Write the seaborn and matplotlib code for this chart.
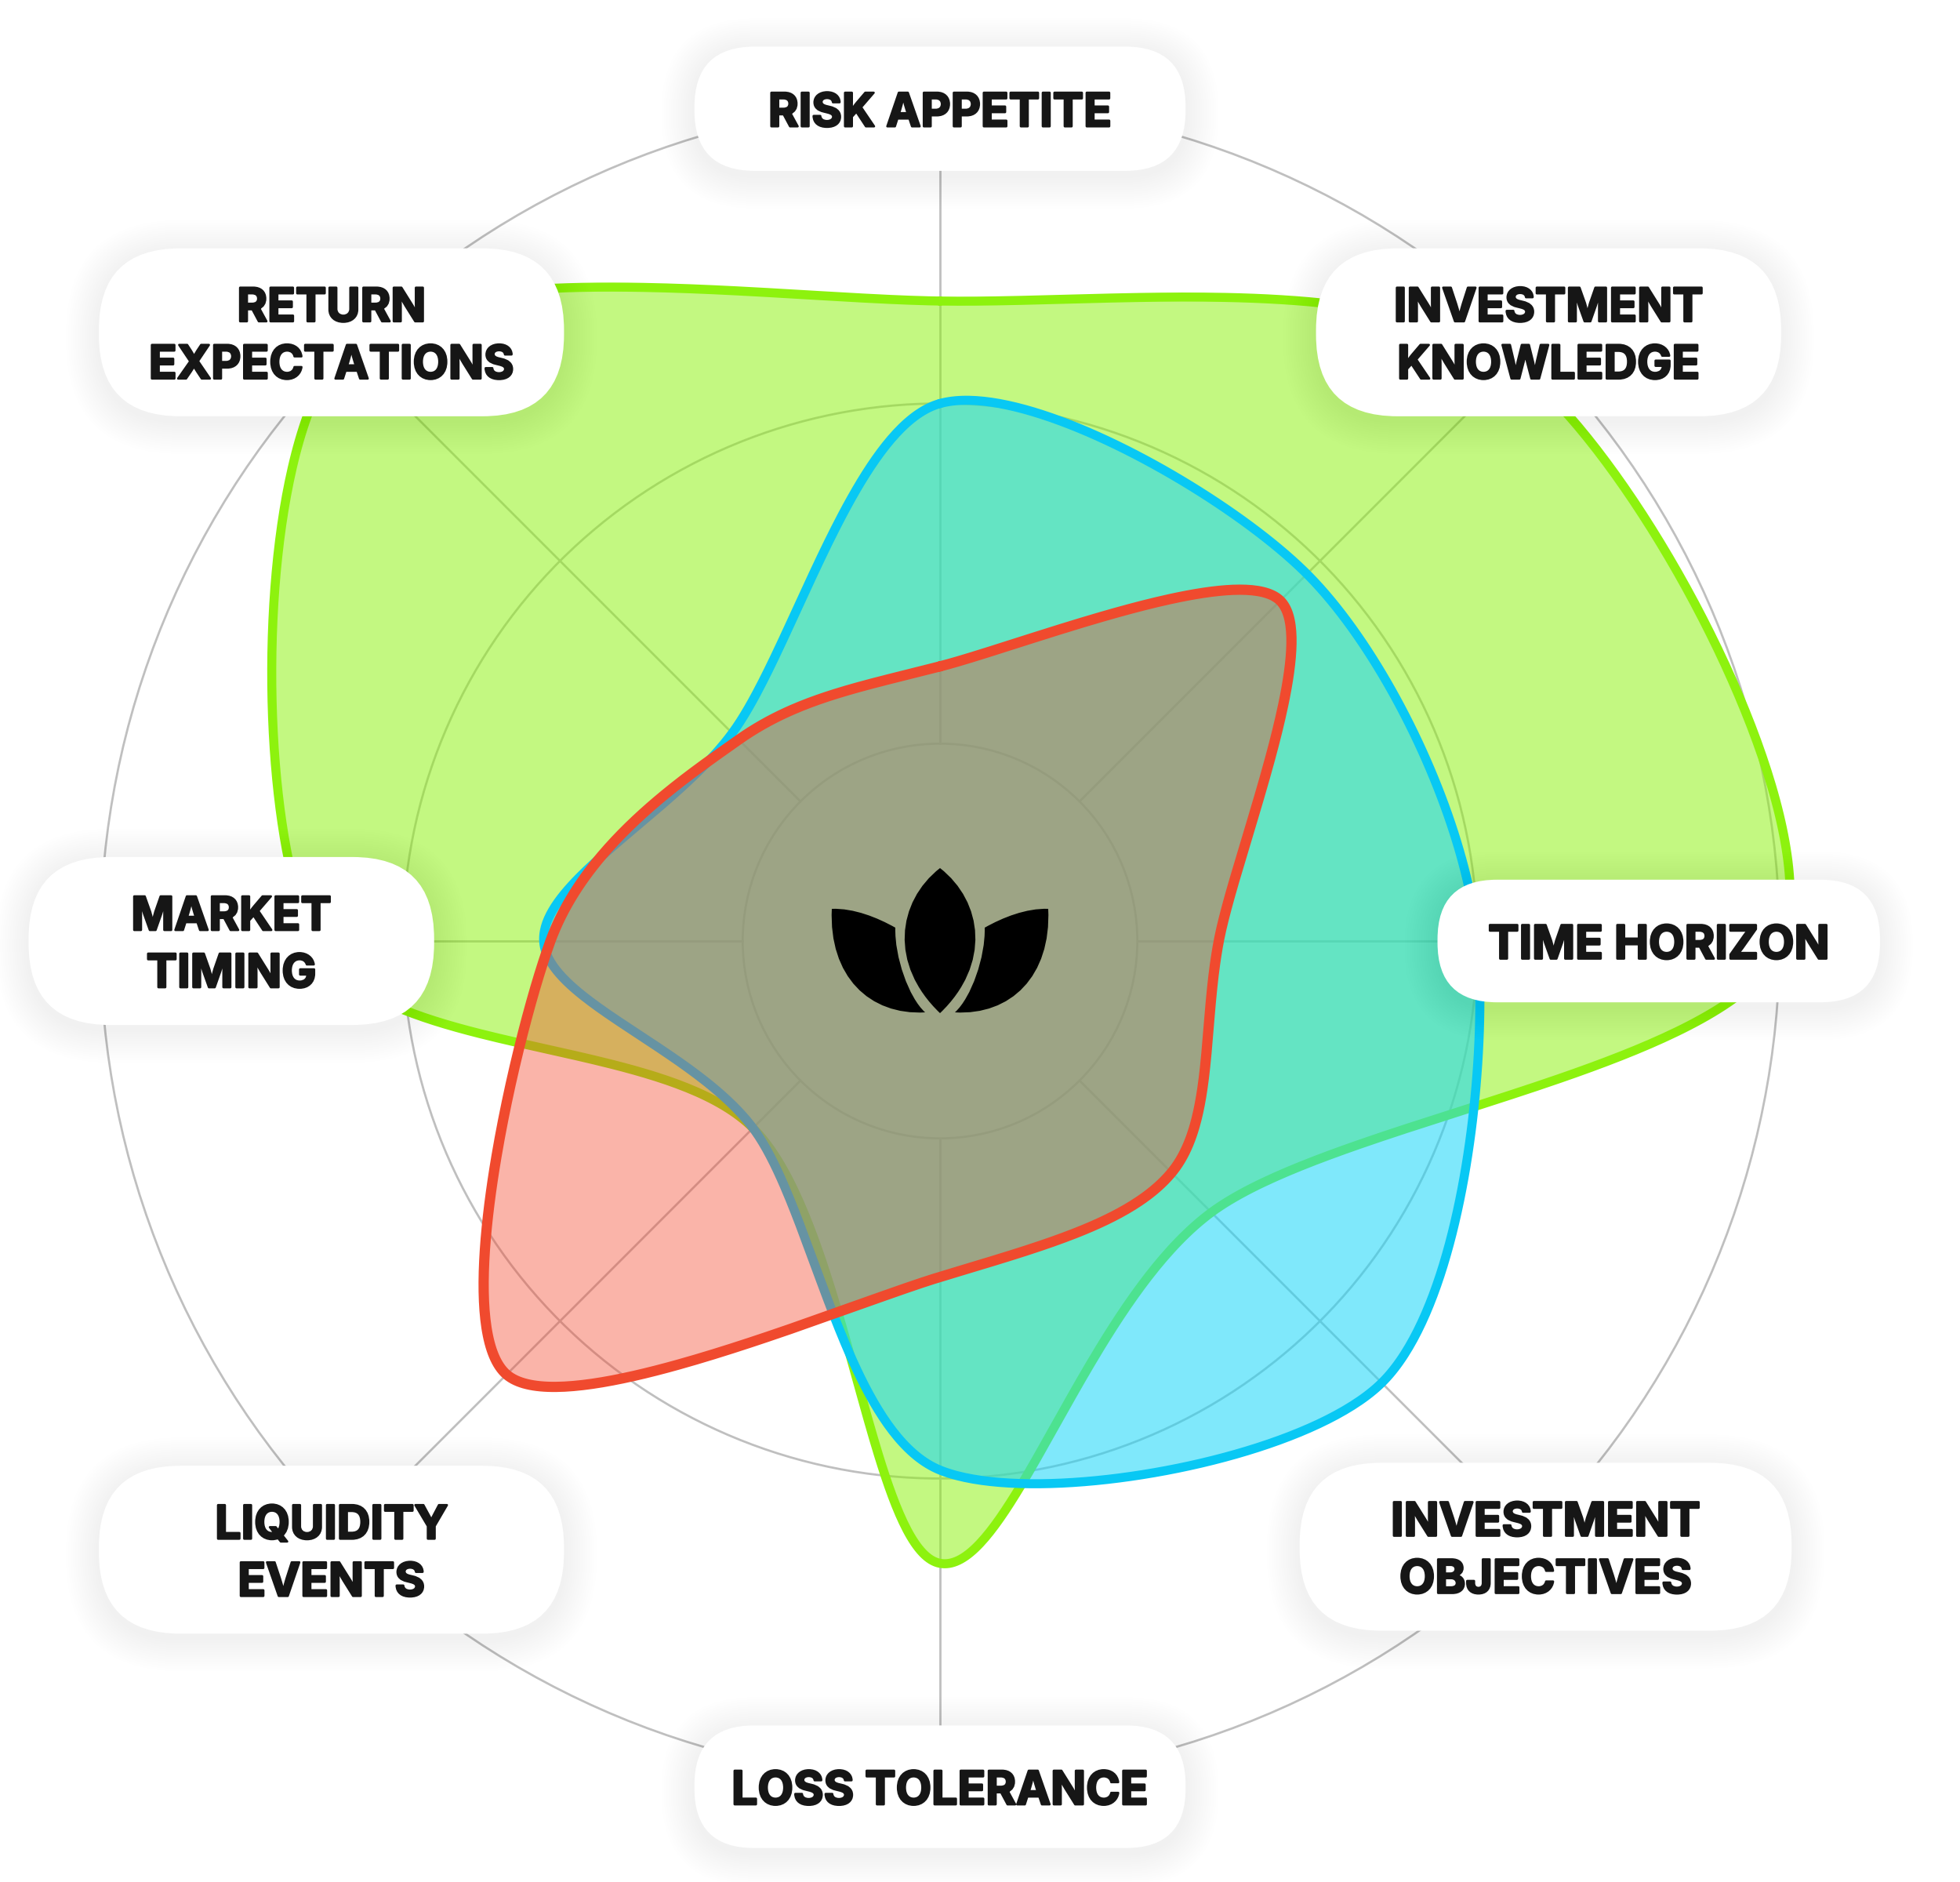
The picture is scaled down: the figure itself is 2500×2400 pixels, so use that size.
import numpy as np
import seaborn as sns
import matplotlib.pyplot as plt
import matplotlib.patheffects as pe
from matplotlib.patches import FancyBboxPatch, Circle, PathPatch
from matplotlib.path import Path

# categories clockwise from the top
categories = ["RISK APPETITE", "INVESTMENT\nKNOWLEDGE", "TIME HORIZON",
              "INVESTMENT\nOBJECTIVES", "LOSS TOLERANCE", "LIQUIDITY\nEVENTS",
              "MARKET\nTIMING", "RETURN\nEXPECTATIONS"]
angles_deg = [90, 45, 0, -45, -90, -135, 180, 135]

# values, outer ring = 10
green_vals = [7.62, 9.7, 10.04, 4.57, 7.41, 3.15, 7.45, 10.0]
blue_vals = [6.4, 6.18, 6.4, 7.44, 6.3, 3.15, 4.72, 3.5]
red_vals = [3.27, 5.73, 3.32, 3.9, 4.0, 7.3, 4.64, 3.39]
ring_levels = [2.35, 6.4, 10.0]

# label pill layout (radius along axis, width, height in data units)
label_r = [9.91, 10.25, 8.56, 10.2, 10.07, 10.25, 8.44, 10.25]
pill_w = [5.85, 5.54, 5.27, 5.86, 5.85, 5.54, 4.83, 5.54]
pill_h = [1.48, 2.0, 1.46, 2.0, 1.46, 2.0, 2.0, 2.0]

PX = 107.1  # pixels per unit


def closed_curve(xs, ys, tension=0.1, n=90):
    P = np.column_stack([xs, ys])
    k = len(P)
    T = (1 - tension) * (np.roll(P, -1, 0) - np.roll(P, 1, 0)) / 2
    t = np.linspace(0, 1, n, endpoint=False)[:, None]
    h00 = 2 * t**3 - 3 * t**2 + 1
    h10 = t**3 - 2 * t**2 + t
    h01 = -2 * t**3 + 3 * t**2
    h11 = t**3 - t**2
    out = []
    for i in range(k):
        j = (i + 1) % k
        out.append(h00 * P[i] + h10 * T[i] + h01 * P[j] + h11 * T[j])
    out = np.vstack(out)
    out = np.vstack([out, out[:1]])
    return out[:, 0], out[:, 1]


sns.set_theme(style="white")
plt.rcParams['font.family'] = ['Inter', 'DejaVu Sans']

fig = plt.figure(figsize=(25, 24), dpi=100)
ax = fig.add_axes([0, 0, 1, 1])
ax.set_xlim(-1199 / PX, 1301 / PX)
ax.set_ylim(-1200 / PX, 1200 / PX)
ax.set_aspect('equal')
ax.axis('off')

th = np.deg2rad(angles_deg)

# grid
grid_c = '#bfbfbf'
for r in ring_levels:
    ax.add_patch(Circle((0, 0), r, fill=False, ec=grid_c, lw=2.0, zorder=1))
for a in th:
    ax.plot([ring_levels[0] * np.cos(a), ring_levels[-1] * np.cos(a)],
            [ring_levels[0] * np.sin(a), ring_levels[-1] * np.sin(a)],
            color=grid_c, lw=2.0, zorder=1)

series = [
    (green_vals, '#8df20e', 0.52, 8.3, '#8df20e'),
    (blue_vals, '#1bd6f8', 0.56, 8.3, '#08c8f4'),
    (red_vals, '#f4442a', 0.40, 9.4, '#f04a2e'),
]
z = 2
for vals, fc, al, lw, ec in series:
    v = np.array(vals)
    x, y = closed_curve(v * np.cos(th), v * np.sin(th))
    ax.fill(x, y, color=fc, alpha=al, lw=0, zorder=z)
    sns.lineplot(x=x, y=y, sort=False, estimator=None, color=ec, lw=lw,
                 ax=ax, zorder=z + 1)
    z += 2


# lotus icon (pixel offsets from the centre, y down)
def to_d(pts, flip=1):
    return [(flip * px_ / PX, -py_ / PX) for px_, py_ in pts]


C4 = Path.CURVE4
centre = [(0, -93), (55, -50), (65, 30), (0, 92),
          (-65, 30), (-55, -50), (0, -93)]
codes_c = [Path.MOVETO, C4, C4, C4, C4, C4, C4]
ax.add_patch(PathPatch(Path(to_d(centre), codes_c), fc='black', ec='none', zorder=20))
side = [(138, -41), (142, 45), (90, 95), (19, 91),
        (40, 72), (58, 20), (57, -17),
        (80, -30), (110, -42), (138, -41)]
codes_s = [Path.MOVETO] + [C4] * 9
for f in (1, -1):
    ax.add_patch(PathPatch(Path(to_d(side, f), codes_s), fc='black', ec='none', zorder=20))

# label pills
cap = 45 / PX
gap = 73 / PX
stroke = [pe.withStroke(linewidth=2.0, foreground='#161616')]
for lab, a, r, w, h in zip(categories, th, label_r, pill_w, pill_h):
    cx, cy = r * np.cos(a), r * np.sin(a)
    rs = h / 2 * 0.97
    for e in np.arange(1, 15):
        d = e * 3 / PX
        ax.add_patch(FancyBboxPatch((cx - w / 2 - d, cy - h / 2 - d - 6 / PX), w + 2 * d, h + 2 * d,
                                    boxstyle=f"round,pad=0,rounding_size={rs + d}",
                                    fc='black', ec='none', alpha=0.0045, zorder=30))
    ax.add_patch(FancyBboxPatch((cx - w / 2, cy - h / 2), w, h,
                                boxstyle=f"round,pad=0,rounding_size={rs}",
                                fc='white', ec='none', zorder=31))
    lines = lab.split('\n')
    n = len(lines)
    for i, ln in enumerate(lines):
        ly = cy + (n - 1) / 2 * gap - i * gap
        ax.text(cx, ly - cap / 2, ln, ha='center', va='baseline', fontsize=42.5,
                fontweight='bold', color='#161616', zorder=32, path_effects=stroke)

fig.savefig('out.png', dpi=100, facecolor='white')
